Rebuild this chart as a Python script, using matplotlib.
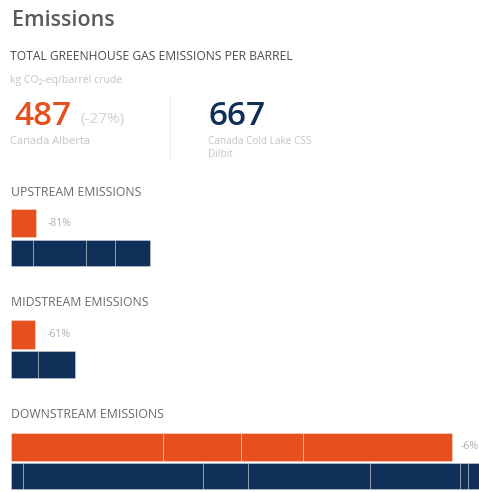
import matplotlib
matplotlib.use("Agg")
import matplotlib.pyplot as plt
import numpy as np

plt.rcParams["font.family"] = ["Open Sans", "DejaVu Sans"]

W, H = 479, 492
ORANGE = "#E5501E"
NAVY = "#0F2E58"

# headline totals (kg CO2-eq / barrel crude)
total_names = ["Canada Alberta", "Canada Cold Lake CSS\nDilbit"]
total_values = [487, 667]
total_change = "(-27%)"

# stage breakdown, stacked sub-components per crude
stages = ["UPSTREAM EMISSIONS", "MIDSTREAM EMISSIONS", "DOWNSTREAM EMISSIONS"]
alberta_parts = [[25], [24], [152, 78, 62, 149]]
cold_lake_parts = [[22, 53, 29, 35], [27, 37], [12, 180, 45, 122, 90, 8, 13]]
stage_change = ["-81%", "-61%", "-6%"]


def fx(x):
    return x / W


def fy(y):
    return 1 - y / H


fig = plt.figure(figsize=(W / 100, H / 100), dpi=100)

fig.text(fx(12), fy(21), "Emissions", fontsize=15.5, weight="semibold", color="#5a5a5a",
         va="center", ha="left")
fig.text(fx(10), fy(57), "TOTAL GREENHOUSE GAS EMISSIONS PER BARREL", fontsize=8.7,
         color="#4a4a4a", va="center", ha="left")
fig.text(fx(10), fy(80), "kg CO\u2082-eq/barrel crude", fontsize=7.6, color="#c4c4c4",
         va="center", ha="left")

# headline numbers
fig.text(fx(14), fy(116), str(total_values[0]), fontsize=24, weight="semibold", color=ORANGE,
         va="center", ha="left")
fig.text(fx(80), fy(119), total_change, fontsize=11, color="#d0d0d0", va="center", ha="left")
fig.text(fx(10), fy(142), total_names[0], fontsize=8, color="#c4c4c4", va="center", ha="left")
fig.text(fx(208), fy(116), str(total_values[1]), fontsize=24, weight="semibold", color=NAVY,
         va="center", ha="left")
fig.text(fx(208), fy(136), total_names[1], fontsize=7.2, color="#c4c4c4", va="top", ha="left",
         linespacing=1.3)
fig.add_artist(plt.Line2D([fx(170), fx(170)], [fy(97), fy(158)], color="#eeeeee", lw=1))

# stage panels: (label y, top of bars, bottom of bars) in pixels
panels = [(193, 208, 268), (303, 319, 380), (414, 432, 491)]

for i, (ly, top, bot) in enumerate(panels):
    fig.text(fx(11), fy(ly), stages[i], fontsize=8.8, color="#6a6a6a", va="center", ha="left")
    ax = fig.add_axes([fx(11), fy(bot), fx(468), (bot - top) / H])
    ax.set_xlim(0, 468)
    ax.set_ylim(1.5, -0.5)
    ax.axis("off")
    for row, (parts, color, h) in enumerate([(alberta_parts[i], ORANGE, 0.95),
                                             (cold_lake_parts[i], NAVY, 0.88)]):
        lefts = np.concatenate([[0], np.cumsum(parts)[:-1]])
        ax.barh(row, parts, left=lefts, height=h, color=color, edgecolor=(1, 1, 1, 0.45),
                linewidth=0.5)
    ax.text(min(sum(alberta_parts[i]) + 12, 450), 0, stage_change[i], fontsize=7.5,
            color="#b0b0b0", va="center", ha="left", clip_on=False)

fig.savefig("out.png", dpi=100)
